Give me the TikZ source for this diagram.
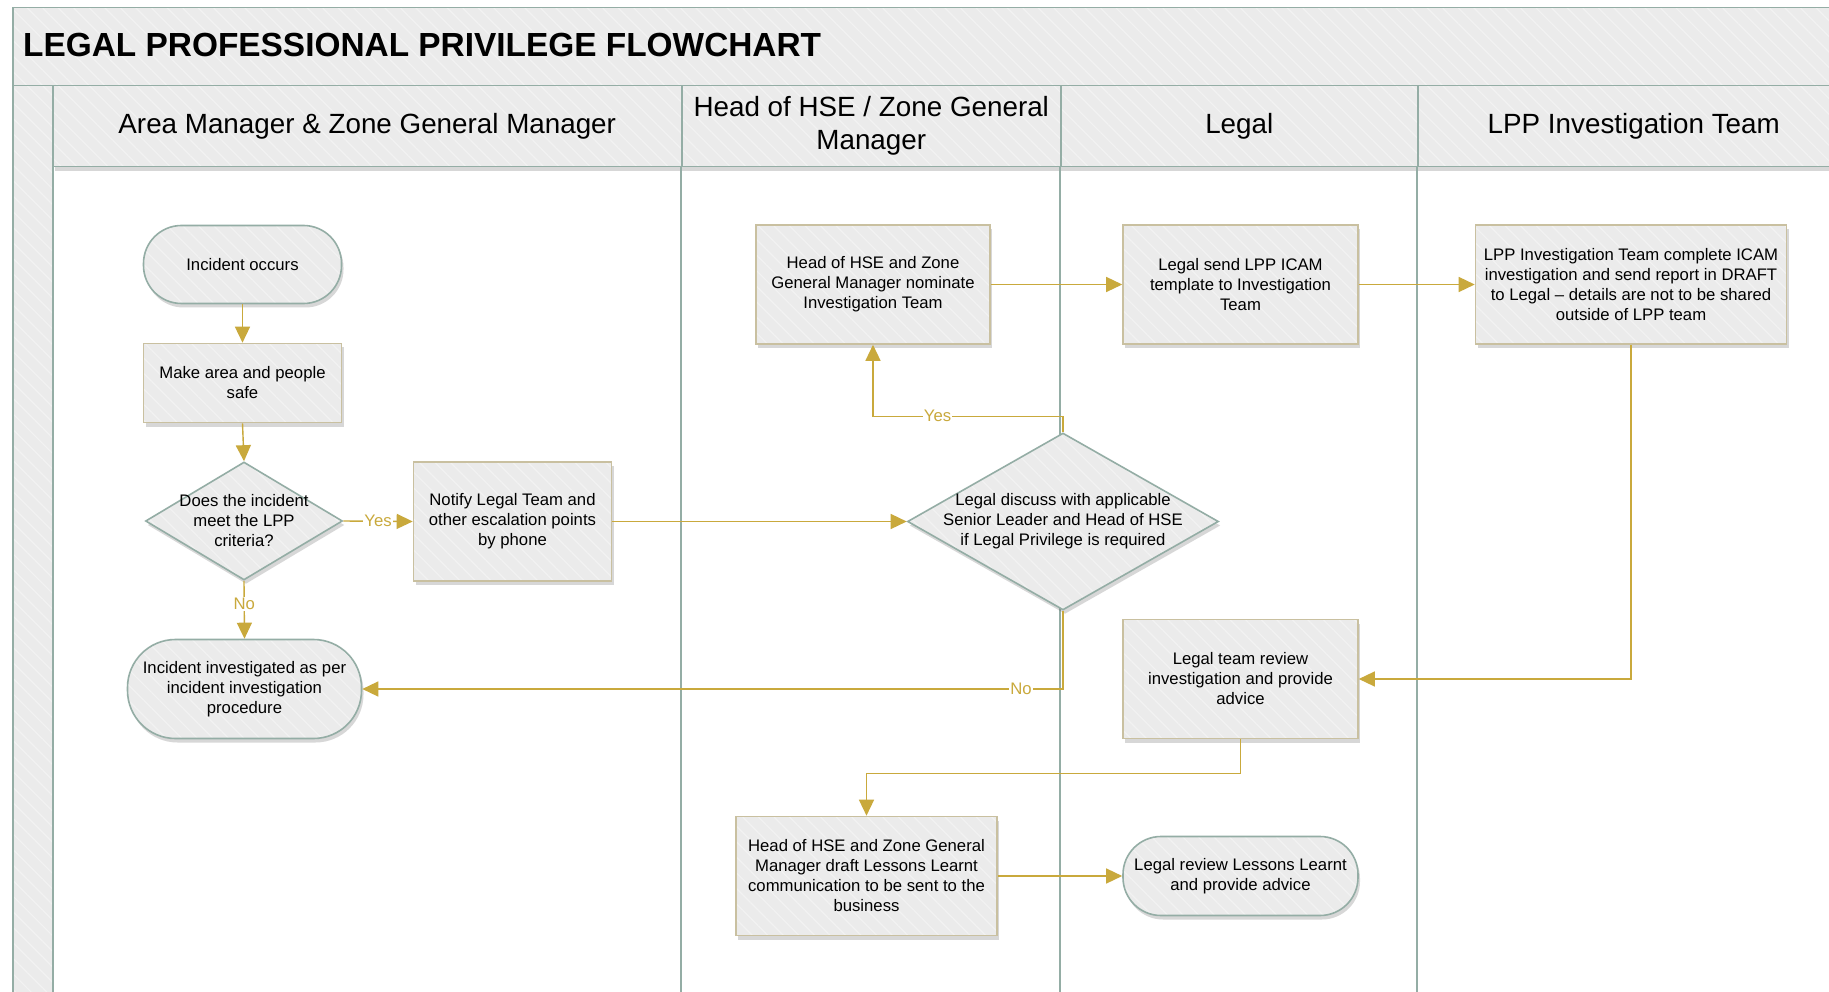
\documentclass[tikz,border=0pt]{standalone}
\usepackage{fontspec}
\setmainfont{Liberation Sans}
\usetikzlibrary{shapes.geometric,shadows,patterns.meta,arrows.meta}
\definecolor{lanecol}{HTML}{94ADA5}
\definecolor{tanline}{HTML}{C9C0A0}
\definecolor{gold}{HTML}{C9A93C}
\definecolor{boxfill}{HTML}{EBEBEB}
\definecolor{hatchcol}{HTML}{F2F2F2}
\newcommand\myBody{\fontsize{16.7}{20}\selectfont}
\newcommand\myHead{\fontsize{27.8}{33}\selectfont}
\newcommand\myTitle{\fontsize{33.4}{40}\selectfont\bfseries}
\begin{document}
\begin{tikzpicture}[x=1pt,y=-1pt,
  hatched/.style={preaction={fill=boxfill}, pattern={Lines[angle=-45,distance=11pt,line width=1.2pt]}, pattern color=hatchcol},
  shad/.style={drop shadow={shadow xshift=2pt, shadow yshift=-4pt, opacity=0.22, fill=black!70}},
  band/.style={rectangle, hatched, draw=lanecol, line width=1.5pt, inner sep=0pt},
  hdr/.style={rectangle, shad, hatched, draw=lanecol, line width=1.5pt, inner sep=0pt, anchor=north west, minimum height=81pt, align=center, font=\myHead},
  lane/.style={draw=lanecol, line width=1.8pt},
  proc/.style={rectangle, shad, hatched, draw=tanline, line width=1.6pt, inner sep=2pt, align=center, font=\myBody},
  term/.style={rectangle, rounded corners=38pt, shad, hatched, draw=lanecol, line width=1.6pt, inner sep=2pt, align=center, font=\myBody},
  dec/.style={diamond, shad, hatched, draw=lanecol, line width=1.6pt, inner sep=0pt},
  dectext/.style={align=center, font=\myBody, inner sep=0pt},
  flow/.style={draw=gold, line width=1.4pt, -{Triangle[length=16pt,width=15pt]}},
  lab/.style={fill=white, text=gold, font=\myBody, inner sep=1pt}
]
\useasboundingbox (0,0) rectangle (1829,992);
\fill[white] (0,0) rectangle (1829,992);
\clip (0,0) rectangle (1829,992);

% pool title band
\node[band, anchor=north west, minimum width=1850pt, minimum height=78pt] (band) at (12,7) {};
\node[anchor=west, font=\myTitle, inner sep=0pt] (title) at (23,45) {LEGAL PROFESSIONAL PRIVILEGE FLOWCHART};

% left strip
\node[band, anchor=north west, minimum width=40pt, minimum height=940pt] (strip) at (12,85) {};

% lane headers
\node[hdr, minimum width=629pt] (h1) at (52,85) {Area Manager \& Zone General Manager};
\node[hdr, minimum width=379pt] (h2) at (681,85) {Head of HSE / Zone General\\Manager};
\node[hdr, minimum width=357pt] (h3) at (1060,85) {Legal};
\node[hdr, minimum width=432pt] (h4) at (1417,85) {LPP Investigation Team};

% lane separators
\draw[lane] (h2.south west) -- ++(0,860);
\draw[lane] (h3.south west) -- ++(0,860);
\draw[lane] (h4.south west) -- ++(0,860);

% nodes
\node[term, minimum width=198pt, minimum height=78pt] (occ) at (242.5,264.5) {Incident occurs};
\node[proc, minimum width=198pt, minimum height=79pt] (safe) at (242.5,383) {Make area and people\\safe};
\node[dec, minimum width=197pt, minimum height=118pt,
      label={[dectext]center:{Does the incident\\meet the LPP\\criteria?}}] (crit) at (244,521) {};
\node[proc, minimum width=198pt, minimum height=119pt] (notify) at (512.5,521.5) {Notify Legal Team and\\other escalation points\\by phone};
\node[term, rounded corners=48pt, minimum width=234pt, minimum height=99pt] (invproc) at (244.5,689) {Incident investigated as per\\incident investigation\\procedure};

\node[proc, minimum width=234pt, minimum height=119pt] (nom) at (873,284.5) {Head of HSE and Zone\\General Manager nominate\\Investigation Team};
\node[proc, minimum width=235pt, minimum height=119pt] (send) at (1240.5,284.5) {Legal send LPP ICAM\\template to Investigation\\Team};
\node[proc, minimum width=311pt, minimum height=119pt] (lpp) at (1631,284.5) {LPP Investigation Team complete ICAM\\investigation and send report in DRAFT\\to Legal – details are not to be shared\\outside of LPP team};

\node[dec, minimum width=311pt, minimum height=177pt,
      label={[dectext]center:{Legal discuss with applicable\\Senior Leader and Head of HSE\\if Legal Privilege is required}}] (disc) at (1063,521.5) {};

\node[proc, minimum width=235pt, minimum height=119pt] (review) at (1240.5,679) {Legal team review\\investigation and provide\\advice};
\node[proc, minimum width=261pt, minimum height=119pt] (lessons) at (866.5,876) {Head of HSE and Zone General\\Manager draft Lessons Learnt\\communication to be sent to the\\business};
\node[term, minimum width=235pt, minimum height=79pt] (lrev) at (1240.5,876) {Legal review Lessons Learnt\\and provide advice};

% connectors
\draw[flow] (occ.south) -- (safe.north);
\draw[flow] (safe.south) -- (crit.north);
\draw[flow] (crit.east) -- node[lab]{Yes} (notify.west);
\draw[flow] (crit.south) -- node[lab, pos=0.4]{No} (invproc.north);
\draw[flow] (notify.east) -- (disc.west);
\draw[flow] (disc.north) -- ++(0,-16) -| node[lab, pos=0.33]{Yes} (nom.south);
\draw[flow] (disc.south) |- node[lab, pos=0.53]{No} (invproc.east);
\draw[flow] (nom.east) -- (send.west);
\draw[flow] (send.east) -- (lpp.west);
\draw[flow] (lpp.south) |- (review.east);
\draw[flow] (review.south) -- ++(0,34) -| (lessons.north);
\draw[flow] (lessons.east) -- (lrev.west);
\end{tikzpicture}
\end{document}
